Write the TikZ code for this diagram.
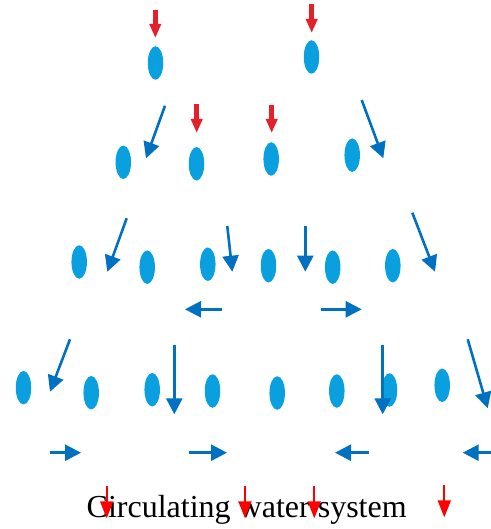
\documentclass[tikz,border=0pt]{standalone}
\usepackage{fontspec}
\setmainfont{Liberation Serif}
\usetikzlibrary{shapes.geometric,arrows.meta}
\definecolor{dropblue}{HTML}{0AA0E0}
\definecolor{flowblue}{HTML}{0070C0}
\definecolor{feedred}{HTML}{E4202A}
\definecolor{outred}{HTML}{FF0000}
\tikzset{
  drop/.style={ellipse,fill=dropblue,draw=none,minimum width=15.5pt,minimum height=33.5pt,inner sep=0pt},
  flow/.style={draw=flowblue,line width=2.6pt,-{Triangle[length=16pt,width=16pt]}},
  feed/.style={draw=feedred,line width=4.5pt,-{Triangle[length=14pt,width=11pt]}},
  outflow/.style={draw=outred,line width=1.8pt,-{Triangle[length=17pt,width=13pt]}}
}
\begin{document}
\begin{tikzpicture}[x=1pt,y=-1pt]
\useasboundingbox (0,0) rectangle (490,529);
% row 1
\node[drop] (d11) at (155.5,63) {};
\node[drop] (d12) at (311.5,57) {};
% row 2
\node[drop] (d21) at (123.3,162.3) {};
\node[drop] (d22) at (196.5,163.8) {};
\node[drop] (d23) at (271.2,159) {};
\node[drop] (d24) at (352.2,155.2) {};
% row 3
\node[drop] (d31) at (79.2,262) {};
\node[drop] (d32) at (147.2,267.2) {};
\node[drop] (d33) at (207.8,264.2) {};
\node[drop] (d34) at (268.5,265.7) {};
\node[drop] (d35) at (332.7,267.2) {};
\node[drop] (d36) at (392.8,265.7) {};
% row 4
\node[drop] (d41) at (23.5,387.7) {};
\node[drop] (d42) at (91.2,392.7) {};
\node[drop] (d43) at (152.2,389.7) {};
\node[drop] (d44) at (212.5,391) {};
\node[drop] (d45) at (277.2,393) {};
\node[drop] (d46) at (336.8,391) {};
\node[drop] (d47) at (389.5,390) {};
\node[drop] (d48) at (442.2,385.3) {};
% feed arrows
\draw[feed] (155.3,10) -- (155.3,38);
\draw[feed] (311.7,4) -- (311.7,33);
\draw[feed] (196.7,104) -- (196.7,133);
\draw[feed] (271.7,105) -- (271.7,133);
% flow arrows
\draw[flow] (165,105.7) -- (146,158.3);
\draw[flow] (361.7,100) -- (383.3,158.3);
\draw[flow] (126.7,218.3) -- (107.3,271.7);
\draw[flow] (227.3,226) -- (232.3,271.7);
\draw[flow] (305.3,226) -- (305.3,271.7);
\draw[flow] (412.3,212.7) -- (435,271.7);
\draw[flow] (221.7,309.3) -- (185,309.3);
\draw[flow] (321,309.3) -- (361.7,309.3);
\draw[flow] (70,339.3) -- (50,391.7);
\draw[flow] (174.3,345) -- (174.3,414.3);
\draw[flow] (382.7,345) -- (382.7,414.3);
\draw[flow] (467.7,339.3) -- (487.7,408.3);
\draw[flow] (50,452.7) -- (81,452.7);
\draw[flow] (189,452.7) -- (227,452.7);
\draw[flow] (368.7,452.7) -- (335,452.7);
\draw[flow] (492,452.7) -- (462.7,452.7);
% label
\node[anchor=base,inner sep=0pt,font=\fontsize{32}{38}\selectfont] (lbl) at (246.7,517.3) {Circulating water system};
% outflow arrows
\draw[outflow] (106.7,486) -- (106.7,518.3);
\draw[outflow] (245,486) -- (245,518.3);
\draw[outflow] (314.3,486) -- (314.3,518.3);
\draw[outflow] (444.3,485) -- (444.3,517.3);
\end{tikzpicture}
\end{document}
